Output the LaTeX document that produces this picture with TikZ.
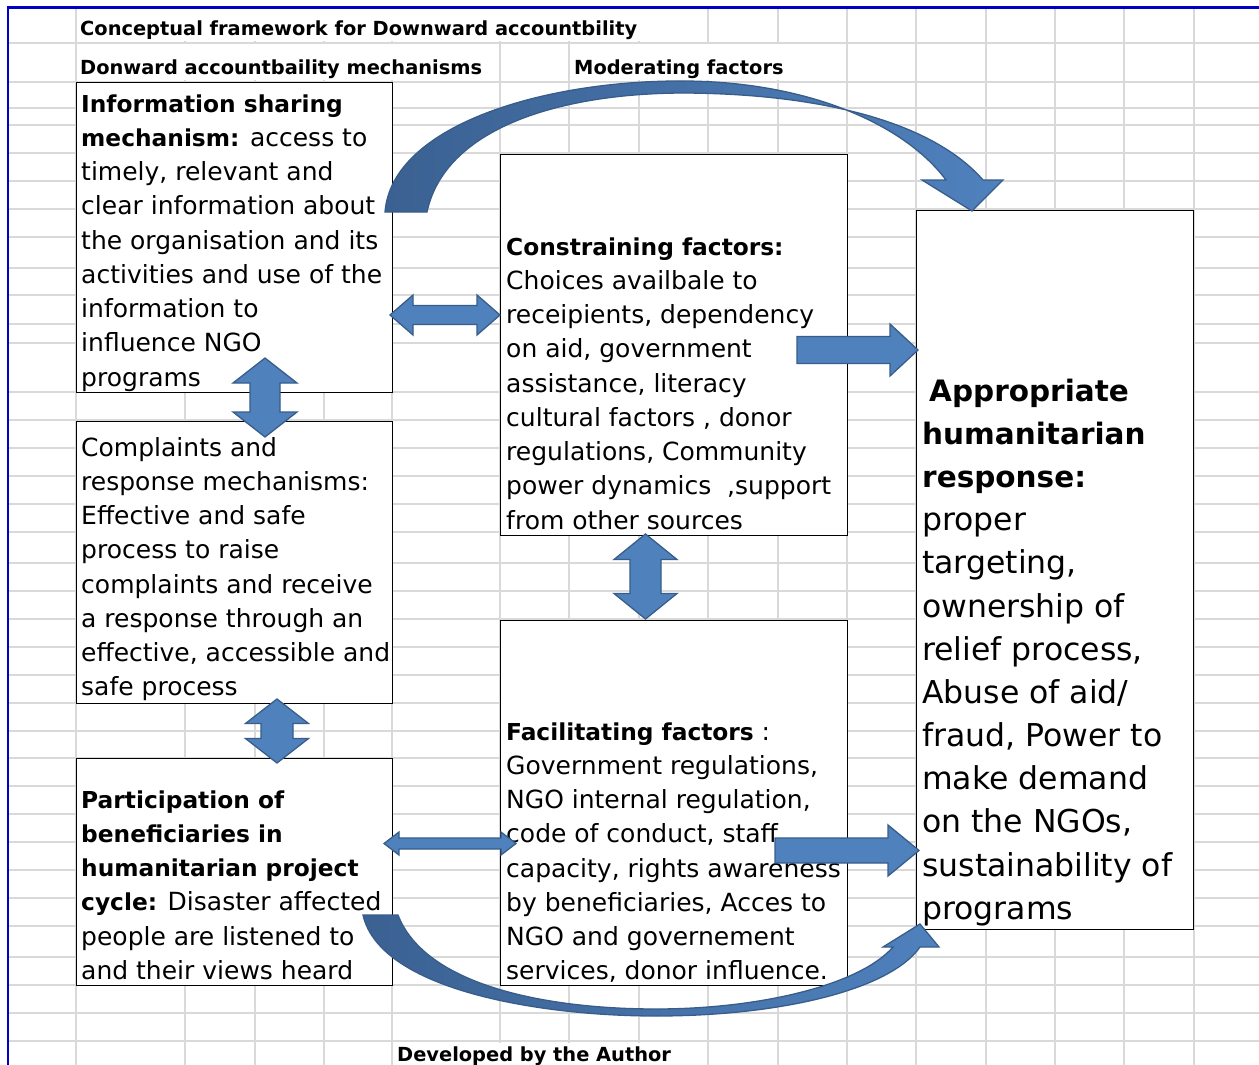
\documentclass[tikz,border=0pt]{standalone}
\usepackage{fontspec}
\setmainfont{DejaVu Sans}
\usetikzlibrary{calc}

\definecolor{arrowblue}{HTML}{4F81BD}
\definecolor{arrowdark}{HTML}{3B6192}
\definecolor{arrowedge}{HTML}{385D8A}
\definecolor{gridgray}{HTML}{D9D9D9}
\definecolor{frameblue}{HTML}{0000C8}

% block arrows: horizontal double, vertical double, right-pointing single
% args: start, end, centre line, shaft half width, head half width, head length
\newcommand\hdoublearrow[6]{%
  \filldraw[blockarrow] (#1,#3) -- (#1+#6,#3-#5) -- (#1+#6,#3-#4) -- (#2-#6,#3-#4)
    -- (#2-#6,#3-#5) -- (#2,#3) -- (#2-#6,#3+#5) -- (#2-#6,#3+#4)
    -- (#1+#6,#3+#4) -- (#1+#6,#3+#5) -- cycle;}
\newcommand\vdoublearrow[6]{%
  \filldraw[blockarrow] (#3,#1) -- (#3+#5,#1+#6) -- (#3+#4,#1+#6) -- (#3+#4,#2-#6)
    -- (#3+#5,#2-#6) -- (#3,#2) -- (#3-#5,#2-#6) -- (#3-#4,#2-#6)
    -- (#3-#4,#1+#6) -- (#3-#5,#1+#6) -- cycle;}
\newcommand\rightblockarrow[6]{%
  \filldraw[blockarrow] (#1,#3-#4) -- (#2-#6,#3-#4) -- (#2-#6,#3-#5) -- (#2,#3)
    -- (#2-#6,#3+#5) -- (#2-#6,#3+#4) -- (#1,#3+#4) -- cycle;}

\newcommand\bodyfont{\fontsize{25}{34.25}\selectfont}
\newcommand\bigfont{\fontsize{31.5}{43.17}\selectfont}
\newcommand\headfont{\fontsize{19.4}{23}\selectfont\bfseries}
% bold runs inside the boxes are set a little smaller to keep their width
\newcommand\bt[1]{{\fontsize{23.3}{34.25}\selectfont\bfseries #1}}
\newcommand\bbt[1]{{\fontsize{29.5}{43.17}\selectfont\bfseries #1}}
\newcommand\firstline{\rule{0pt}{20pt}}
\newcommand\firstbigline{\rule{0pt}{25.2pt}}

\tikzset{
  box/.style={draw=black, line width=1.4pt, fill=white, anchor=north west, inner sep=0pt},
  boxtext/.style={anchor=north west, inner sep=0pt, align=left, font=\bodyfont},
  bigtext/.style={anchor=north west, inner sep=0pt, align=left, font=\bigfont},
  heading/.style={anchor=base west, inner sep=0pt, font=\headfont},
  blockarrow/.style={fill=arrowblue, draw=arrowedge, line width=1.3pt, line join=miter},
  curvedarrow/.style={left color=arrowdark, right color=arrowblue, draw=arrowedge, line width=1.3pt},
  gridline/.style={draw=gridgray, line width=1.3pt},
  whiteout/.style={fill=white, draw=none}
}

\begin{document}
\begin{tikzpicture}[x=1pt, y=-1pt]
\useasboundingbox (0,0) rectangle (1259,1065);
\fill[white] (0,0) rectangle (1259,1065);

% spreadsheet grid
\foreach \gx in {76,185,255,324,392,500,569,639,708,778,847,916,986,1055,1124,1194}
  \draw[gridline] (\gx,8) -- (\gx,1065);
\foreach \gy in {43,82,108,125,153,181,209,237,268,295,324,343,392,420,448,476,504,532,563,591,619,647,675,703,731,758,786,814,842,870,898,926,957,985,1013,1041}
  \draw[gridline] (8,\gy) -- (1259,\gy);

% cells covered by overflowing heading text
\fill[whiteout] (77.5,9) rectangle (706.5,41.5);
\fill[whiteout] (77.5,44.5) rectangle (498.5,80.5);
\fill[whiteout] (570.5,44.5) rectangle (845.5,80.5);
\fill[whiteout] (393.5,1042.5) rectangle (706.5,1065);

% sheet frame
\draw[frameblue, line width=2.5pt] (8,1065) -- (8,7.5) -- (1259,7.5);

% headings
\node[heading] (title) at (80,36) {Conceptual framework for Downward accountbility};
\node[heading] (mechhead) at (80,75) {Donward accountbaility mechanisms};
\node[heading] (modhead) at (574,75) {Moderating factors};
\node[heading] (credit) at (397,1061) {Developed by the Author};

% boxes
\node[box, minimum width=316pt, minimum height=310pt] (info) at (76,82) {};
\node[box, minimum width=316pt, minimum height=282pt] (complaints) at (76,421) {};
\node[box, minimum width=316pt, minimum height=227pt] (participation) at (76,758) {};
\node[box, minimum width=347pt, minimum height=381pt] (constraining) at (500,154) {};
\node[box, minimum width=347pt, minimum height=365pt] (facilitating) at (500,620) {};
\node[box, minimum width=277pt, minimum height=719pt] (response) at (916,210) {};

% box texts
\node[boxtext] (infotext) at (81,92) {\firstline\bt{Information sharing}\\
  \bt{mechanism:} access to\\ timely, relevant and\\ clear information about\\
  the organisation and its\\ activities and use of the\\ information to\\
  influence NGO\\ programs};
\node[boxtext] (complainttext) at (81,436) {\firstline Complaints and\\
  response mechanisms:\\ Effective and safe\\ process to raise\\
  complaints and receive\\ a response through an\\ effective, accessible and\\
  safe process};
\node[boxtext] (participationtext) at (81,788) {\firstline\bt{Participation of}\\
  \bt{beneficiaries in}\\ \bt{humanitarian project}\\
  \bt{cycle:} Disaster affected\\ people are listened to\\ and their views heard};
\node[boxtext] (constrainingtext) at (506,235) {\firstline\bt{Constraining factors:}\\
  Choices availbale to\\ receipients, dependency\\ on aid, government\\
  assistance, literacy\\ cultural factors , donor\\ regulations, Community\\
  power dynamics~ ,support\\ from other sources};
\node[boxtext] (facilitatingtext) at (506,720) {\firstline\bt{Facilitating factors} :\\
  Government regulations,\\ NGO internal regulation,\\ code of conduct, staff\\
  capacity, rights awareness\\ by beneficiaries, Acces to\\ NGO and governement\\
  services, donor influence.};
\node[bigtext] (responsetext) at (922,375.8) {\firstbigline\hspace{7pt}\bbt{Appropriate}\\
  \bbt{humanitarian}\\ \bbt{response:}\\ proper\\ targeting,\\ ownership of\\
  relief process,\\ Abuse of aid/\\ fraud, Power to\\ make demand\\ on the NGOs,\\
  sustainability of\\ programs};

% straight block arrows between the boxes
\hdoublearrow{390}{500}{315}{9.5}{20}{23}
\hdoublearrow{384}{516}{843.5}{5.5}{11.5}{15}
\rightblockarrow{797}{918}{350}{13.5}{26}{28}
\rightblockarrow{775}{919}{850.5}{12.5}{25.5}{31}
\vdoublearrow{358}{437}{265}{15}{32}{25}
\vdoublearrow{699}{763}{277}{16}{31.5}{24.5}
\vdoublearrow{534}{619}{645.5}{15.5}{31.5}{25.5}

% curved arrow over the top: information sharing -> response
\path[curvedarrow] (385,212) .. controls (392,125) and (545,80) .. (685,81)
  .. controls (810,82) and (905,125) .. (946,180) -- (922,180) -- (972,211)
  -- (1003,180) -- (983,180) .. controls (935,125) and (830,94) .. (685,93)
  .. controls (560,93) and (445,128) .. (427,212) -- cycle;

% curved arrow underneath: participation -> response
\path[curvedarrow] (363,915) .. controls (380,990) and (540,1016) .. (656,1016)
  .. controls (780,1016) and (890,990) .. (920,947) -- (939,947) -- (920,924)
  -- (883,947) -- (893,947) .. controls (860,985) and (760,1009) .. (656,1009)
  .. controls (545,1009) and (425,985) .. (398,915) -- cycle;
\end{tikzpicture}
\end{document}
